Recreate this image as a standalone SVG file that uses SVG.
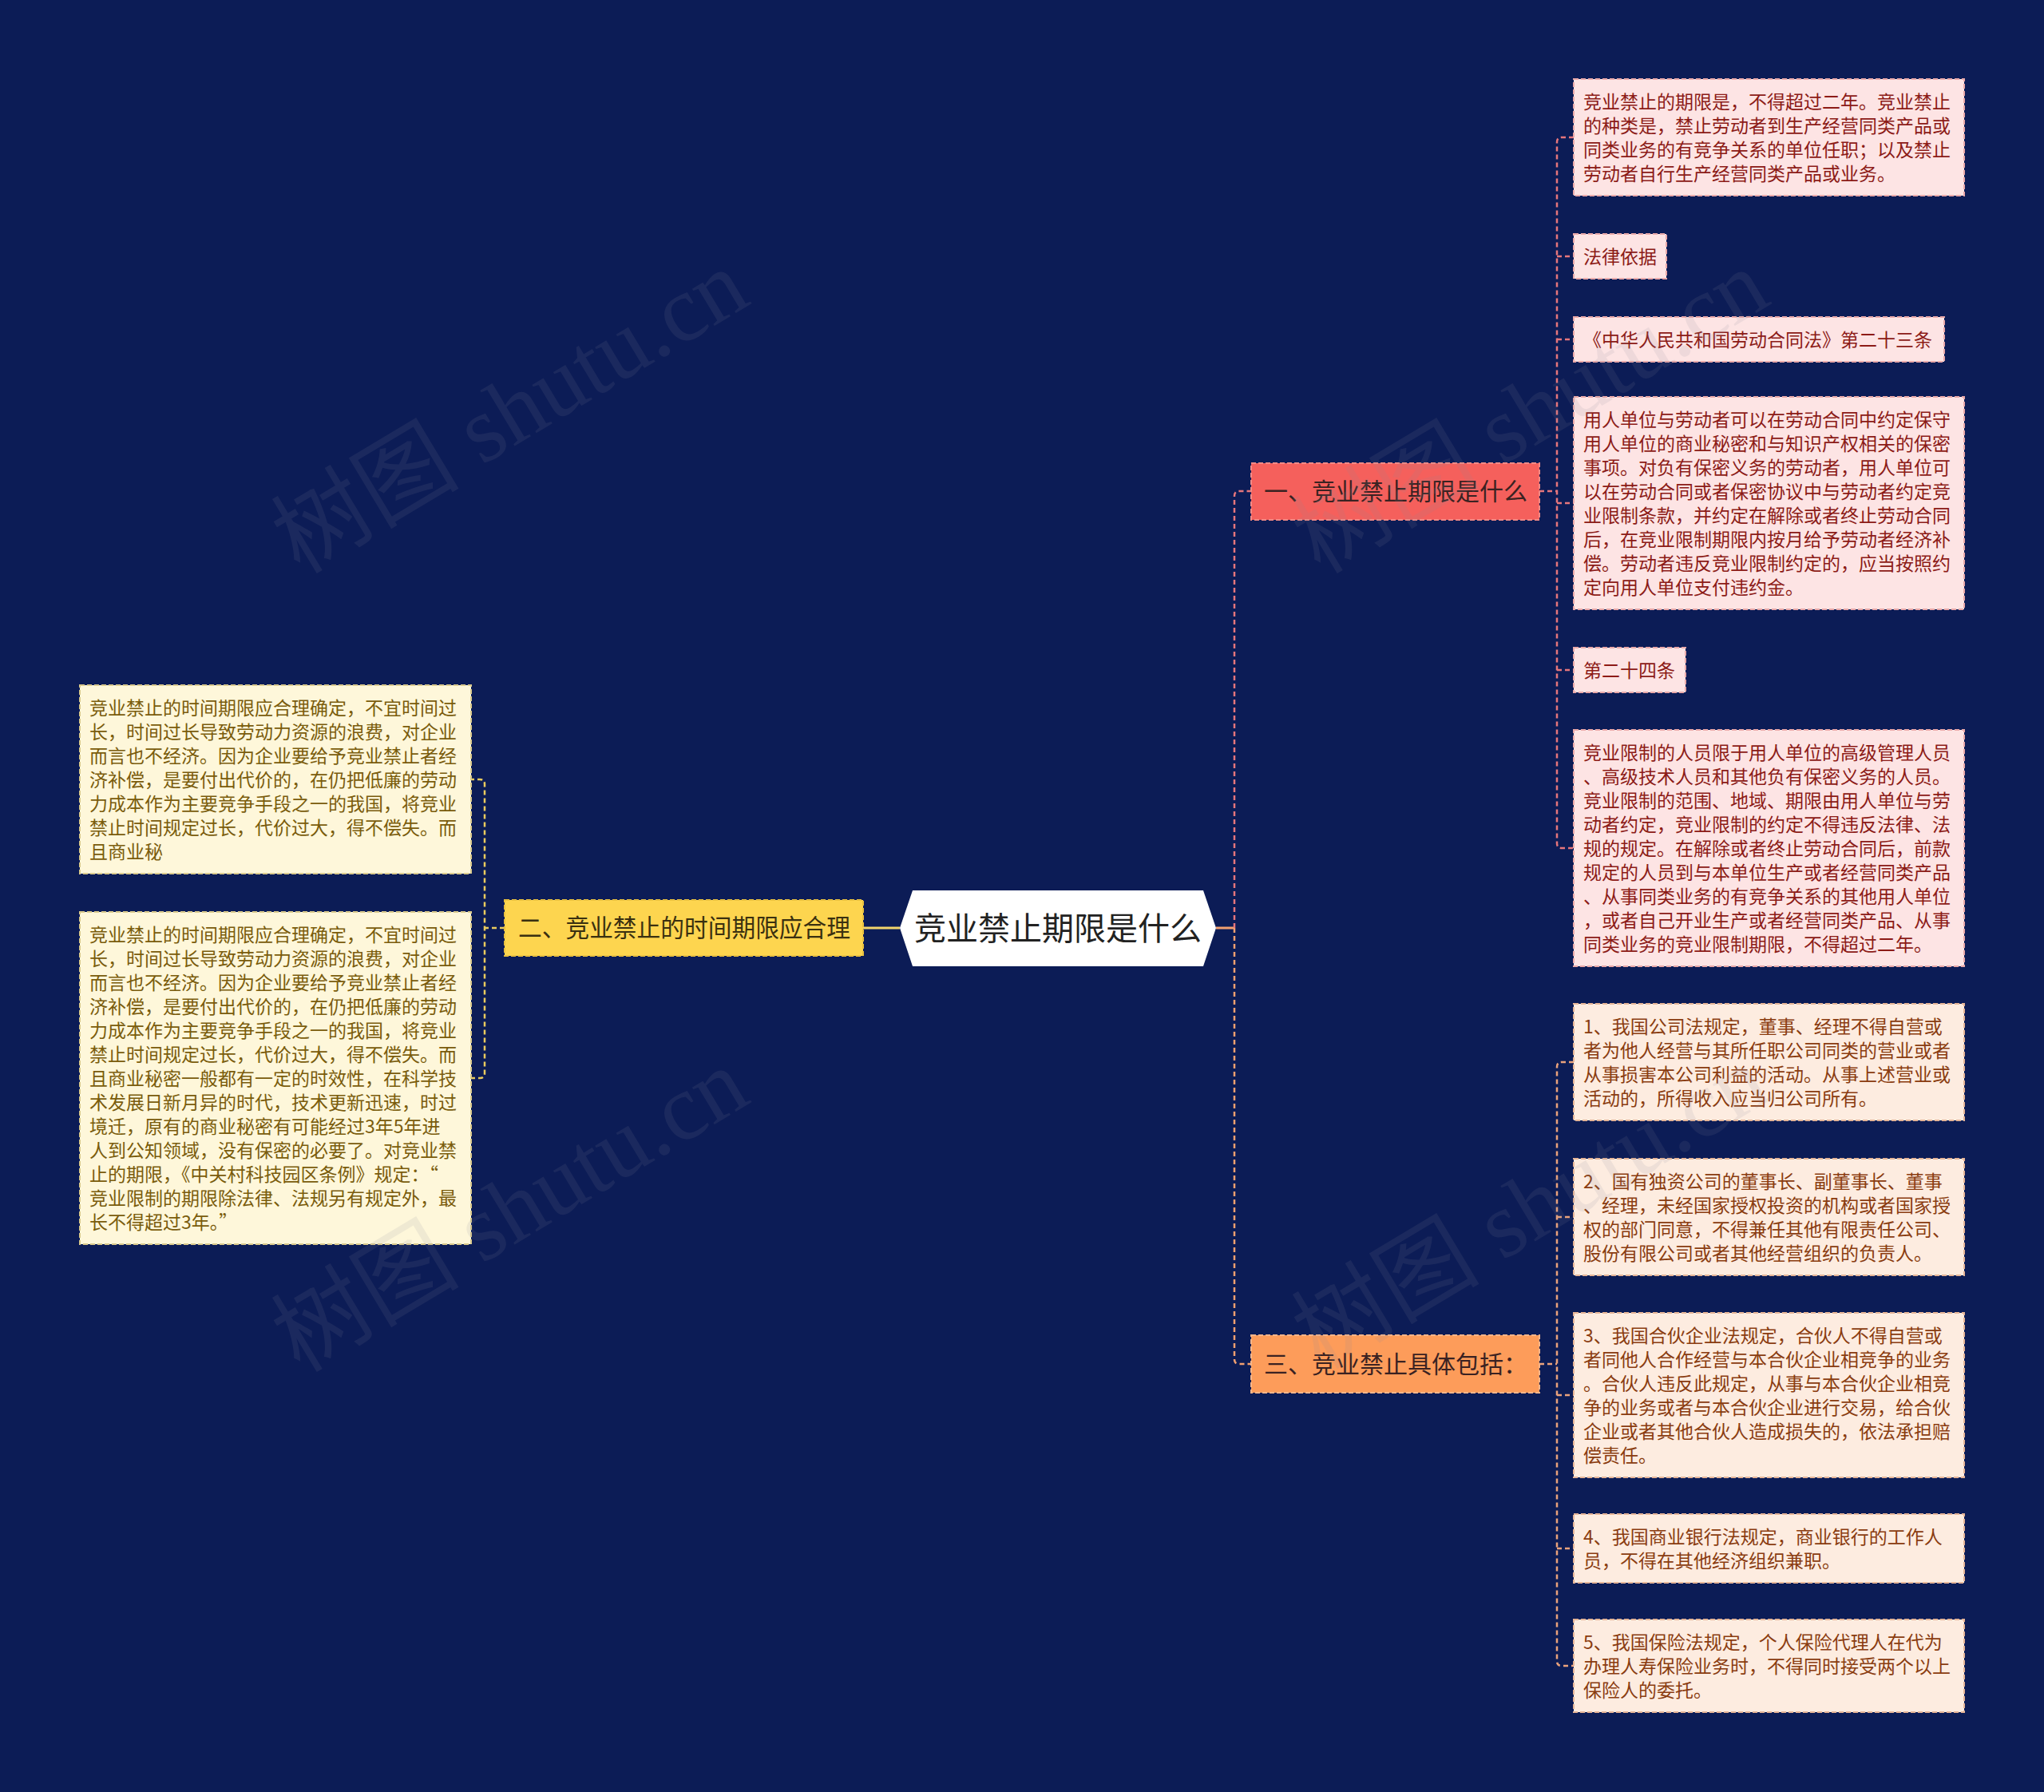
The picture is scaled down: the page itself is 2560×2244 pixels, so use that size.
<svg xmlns="http://www.w3.org/2000/svg" width="2560" height="2244" viewBox="0 0 2560 2244">
<style>
text{font-family:"Noto Sans CJK SC","Noto Sans",sans-serif}
.lf{font-size:23px}
.red .bx{fill:#fde4e4;stroke:#eaa9a9}
.red text{fill:#8c1b17}
.pch .bx{fill:#fdece0;stroke:#e6b597}
.pch text{fill:#8a3c10}
.crm .bx{fill:#fef7da;stroke:#d9c98c}
.crm text{fill:#7a5c0c}
.bx{stroke-width:2;stroke-dasharray:6 3}
.br{font-size:30px;fill:#3a2222}
.c{fill:none;stroke-width:2.5;stroke-dasharray:6 4}
.wm{font-family:"Liberation Serif","Noto Sans CJK SC",serif;font-size:118px;fill:#8a8a9a;opacity:0.12}
</style>
<rect width="2560" height="2244" fill="#0c1c56"/>

<g id="connectors">
  <path d="M1081 1162 H1127" stroke="#f3d56c" stroke-width="3" fill="none"/>
  <path class="c" d="M632 1162 H607" stroke="#e9cb5e"/>
  <path class="c" d="M588 976 H601 Q607 976 607 982 V1344 Q607 1350 601 1350 H588" stroke="#e9cb5e"/>
  <path d="M1523 1162 H1546" stroke="#f2a070" stroke-width="3" fill="none"/>
  <path class="c" d="M1546 1162 V621 Q1546 615 1552 615 H1567" stroke="#e6767c"/>
  <path class="c" d="M1546 1162 V1702 Q1546 1708 1552 1708 H1567" stroke="#f2a070"/>
  <path class="c" d="M1928 615 H1950" stroke="#e6767c"/>
  <path class="c" d="M1971 172 H1956 Q1950 172 1950 178 V1056 Q1950 1062 1956 1062 H1971" stroke="#e6767c"/>
  <path class="c" d="M1950 321 H1971 M1950 425 H1971 M1950 630 H1971 M1950 839 H1971" stroke="#e6767c"/>
  <path class="c" d="M1928 1708 H1950" stroke="#eaa27c"/>
  <path class="c" d="M1971 1330 H1956 Q1950 1330 1950 1336 V2080 Q1950 2086 1956 2086 H1971" stroke="#eaa27c"/>
  <path class="c" d="M1950 1524 H1971 M1950 1747 H1971 M1950 1939 H1971" stroke="#eaa27c"/>
</g>

<g id="root">
  <polygon points="1127,1162 1143,1115 1507,1115 1523,1162 1507,1210 1143,1210" fill="#ffffff"/>
  <text x="1325" y="1177" text-anchor="middle" font-size="40" fill="#222222">竞业禁止期限是什么</text>
</g>

<g id="branch1">
  <rect x="1567" y="580" width="361" height="71" fill="#f5605c" stroke="#f08a86" stroke-width="2" stroke-dasharray="6 3"/>
  <text class="br" x="1583" y="626">一、竞业禁止期限是什么</text>
</g>
<g id="branch2">
  <rect x="632" y="1127" width="449" height="70" fill="#fdd54f" stroke="#e8c040" stroke-width="2" stroke-dasharray="6 3"/>
  <text x="649" y="1173" textLength="416" lengthAdjust="spacingAndGlyphs" style="font-size:31px;fill:#3a3010">二、竞业禁止的时间期限应合理</text>
</g>
<g id="branch3">
  <rect x="1567" y="1672" width="361" height="72" fill="#fd9c5a" stroke="#f5b58a" stroke-width="2" stroke-dasharray="6 3"/>
  <text class="br" x="1583" y="1719">三、竞业禁止具体包括：</text>
</g>

<g id="n1-1" class="red">
  <rect class="bx" x="1971" y="99" width="489" height="146"/>
  <text class="lf" x="1983" y="136"><tspan x="1983">竞业禁止的期限是，不得超过二年。竞业禁止</tspan><tspan x="1983" dy="30">的种类是，禁止劳动者到生产经营同类产品或</tspan><tspan x="1983" dy="30">同类业务的有竞争关系的单位任职；以及禁止</tspan><tspan x="1983" dy="30">劳动者自行生产经营同类产品或业务。</tspan></text>
</g>
<g id="n1-2" class="red">
  <rect class="bx" x="1971" y="293" width="116" height="56"/>
  <text class="lf" x="1983" y="330">法律依据</text>
</g>
<g id="n1-3" class="red">
  <rect class="bx" x="1971" y="397" width="464" height="56"/>
  <text class="lf" x="1983" y="434">《中华人民共和国劳动合同法》第二十三条</text>
</g>
<g id="n1-4" class="red">
  <rect class="bx" x="1971" y="497" width="489" height="266"/>
  <text class="lf" x="1983" y="534"><tspan x="1983">用人单位与劳动者可以在劳动合同中约定保守</tspan><tspan x="1983" dy="30">用人单位的商业秘密和与知识产权相关的保密</tspan><tspan x="1983" dy="30">事项。对负有保密义务的劳动者，用人单位可</tspan><tspan x="1983" dy="30">以在劳动合同或者保密协议中与劳动者约定竞</tspan><tspan x="1983" dy="30">业限制条款，并约定在解除或者终止劳动合同</tspan><tspan x="1983" dy="30">后，在竞业限制期限内按月给予劳动者经济补</tspan><tspan x="1983" dy="30">偿。劳动者违反竞业限制约定的，应当按照约</tspan><tspan x="1983" dy="30">定向用人单位支付违约金。</tspan></text>
</g>
<g id="n1-5" class="red">
  <rect class="bx" x="1971" y="811" width="140" height="56"/>
  <text class="lf" x="1983" y="848">第二十四条</text>
</g>
<g id="n1-6" class="red">
  <rect class="bx" x="1971" y="914" width="489" height="296"/>
  <text class="lf" x="1983" y="951"><tspan x="1983">竞业限制的人员限于用人单位的高级管理人员</tspan><tspan x="1983" dy="30">、高级技术人员和其他负有保密义务的人员。</tspan><tspan x="1983" dy="30">竞业限制的范围、地域、期限由用人单位与劳</tspan><tspan x="1983" dy="30">动者约定，竞业限制的约定不得违反法律、法</tspan><tspan x="1983" dy="30">规的规定。在解除或者终止劳动合同后，前款</tspan><tspan x="1983" dy="30">规定的人员到与本单位生产或者经营同类产品</tspan><tspan x="1983" dy="30">、从事同类业务的有竞争关系的其他用人单位</tspan><tspan x="1983" dy="30">，或者自己开业生产或者经营同类产品、从事</tspan><tspan x="1983" dy="30">同类业务的竞业限制期限，不得超过二年。</tspan></text>
</g>

<g id="n2-1" class="crm">
  <rect class="bx" x="100" y="858" width="490" height="236"/>
  <text class="lf" x="112" y="895"><tspan x="112">竞业禁止的时间期限应合理确定，不宜时间过</tspan><tspan x="112" dy="30">长，时间过长导致劳动力资源的浪费，对企业</tspan><tspan x="112" dy="30">而言也不经济。因为企业要给予竞业禁止者经</tspan><tspan x="112" dy="30">济补偿，是要付出代价的，在仍把低廉的劳动</tspan><tspan x="112" dy="30">力成本作为主要竞争手段之一的我国，将竞业</tspan><tspan x="112" dy="30">禁止时间规定过长，代价过大，得不偿失。而</tspan><tspan x="112" dy="30">且商业秘</tspan></text>
</g>
<g id="n2-2" class="crm">
  <rect class="bx" x="100" y="1142" width="490" height="416"/>
  <text class="lf" x="112" y="1179"><tspan x="112">竞业禁止的时间期限应合理确定，不宜时间过</tspan><tspan x="112" dy="30">长，时间过长导致劳动力资源的浪费，对企业</tspan><tspan x="112" dy="30">而言也不经济。因为企业要给予竞业禁止者经</tspan><tspan x="112" dy="30">济补偿，是要付出代价的，在仍把低廉的劳动</tspan><tspan x="112" dy="30">力成本作为主要竞争手段之一的我国，将竞业</tspan><tspan x="112" dy="30">禁止时间规定过长，代价过大，得不偿失。而</tspan><tspan x="112" dy="30">且商业秘密一般都有一定的时效性，在科学技</tspan><tspan x="112" dy="30">术发展日新月异的时代，技术更新迅速，时过</tspan><tspan x="112" dy="30">境迁，原有的商业秘密有可能经过3年5年进</tspan><tspan x="112" dy="30">人到公知领域，没有保密的必要了。对竞业禁</tspan><tspan x="112" dy="30">止的期限，《中关村科技园区条例》规定：“</tspan><tspan x="112" dy="30">竞业限制的期限除法律、法规另有规定外，最</tspan><tspan x="112" dy="30">长不得超过3年。”</tspan></text>
</g>

<g id="n3-1" class="pch">
  <rect class="bx" x="1971" y="1257" width="489" height="146"/>
  <text class="lf" x="1983" y="1294"><tspan x="1983">1、我国公司法规定，董事、经理不得自营或</tspan><tspan x="1983" dy="30">者为他人经营与其所任职公司同类的营业或者</tspan><tspan x="1983" dy="30">从事损害本公司利益的活动。从事上述营业或</tspan><tspan x="1983" dy="30">活动的，所得收入应当归公司所有。</tspan></text>
</g>
<g id="n3-2" class="pch">
  <rect class="bx" x="1971" y="1451" width="489" height="146"/>
  <text class="lf" x="1983" y="1488"><tspan x="1983">2、国有独资公司的董事长、副董事长、董事</tspan><tspan x="1983" dy="30">、经理，未经国家授权投资的机构或者国家授</tspan><tspan x="1983" dy="30">权的部门同意，不得兼任其他有限责任公司、</tspan><tspan x="1983" dy="30">股份有限公司或者其他经营组织的负责人。</tspan></text>
</g>
<g id="n3-3" class="pch">
  <rect class="bx" x="1971" y="1644" width="489" height="206"/>
  <text class="lf" x="1983" y="1681"><tspan x="1983">3、我国合伙企业法规定，合伙人不得自营或</tspan><tspan x="1983" dy="30">者同他人合作经营与本合伙企业相竞争的业务</tspan><tspan x="1983" dy="30">。合伙人违反此规定，从事与本合伙企业相竞</tspan><tspan x="1983" dy="30">争的业务或者与本合伙企业进行交易，给合伙</tspan><tspan x="1983" dy="30">企业或者其他合伙人造成损失的，依法承担赔</tspan><tspan x="1983" dy="30">偿责任。</tspan></text>
</g>
<g id="n3-4" class="pch">
  <rect class="bx" x="1971" y="1896" width="489" height="86"/>
  <text class="lf" x="1983" y="1933"><tspan x="1983">4、我国商业银行法规定，商业银行的工作人</tspan><tspan x="1983" dy="30">员，不得在其他经济组织兼职。</tspan></text>
</g>
<g id="n3-5" class="pch">
  <rect class="bx" x="1971" y="2028" width="489" height="116"/>
  <text class="lf" x="1983" y="2065"><tspan x="1983">5、我国保险法规定，个人保险代理人在代为</tspan><tspan x="1983" dy="30">办理人寿保险业务时，不得同时接受两个以上</tspan><tspan x="1983" dy="30">保险人的委托。</tspan></text>
</g>

<g id="watermarks">
  <text class="wm" transform="translate(649 515) rotate(-31)" x="-340" y="35">树图 shutu.cn</text>
  <text class="wm" transform="translate(649 1515) rotate(-31)" x="-340" y="35">树图 shutu.cn</text>
  <text class="wm" transform="translate(1927 515) rotate(-31)" x="-340" y="35">树图 shutu.cn</text>
  <text class="wm" transform="translate(1927 1511) rotate(-31)" x="-340" y="35">树图 shutu.cn</text>
</g>
</svg>
